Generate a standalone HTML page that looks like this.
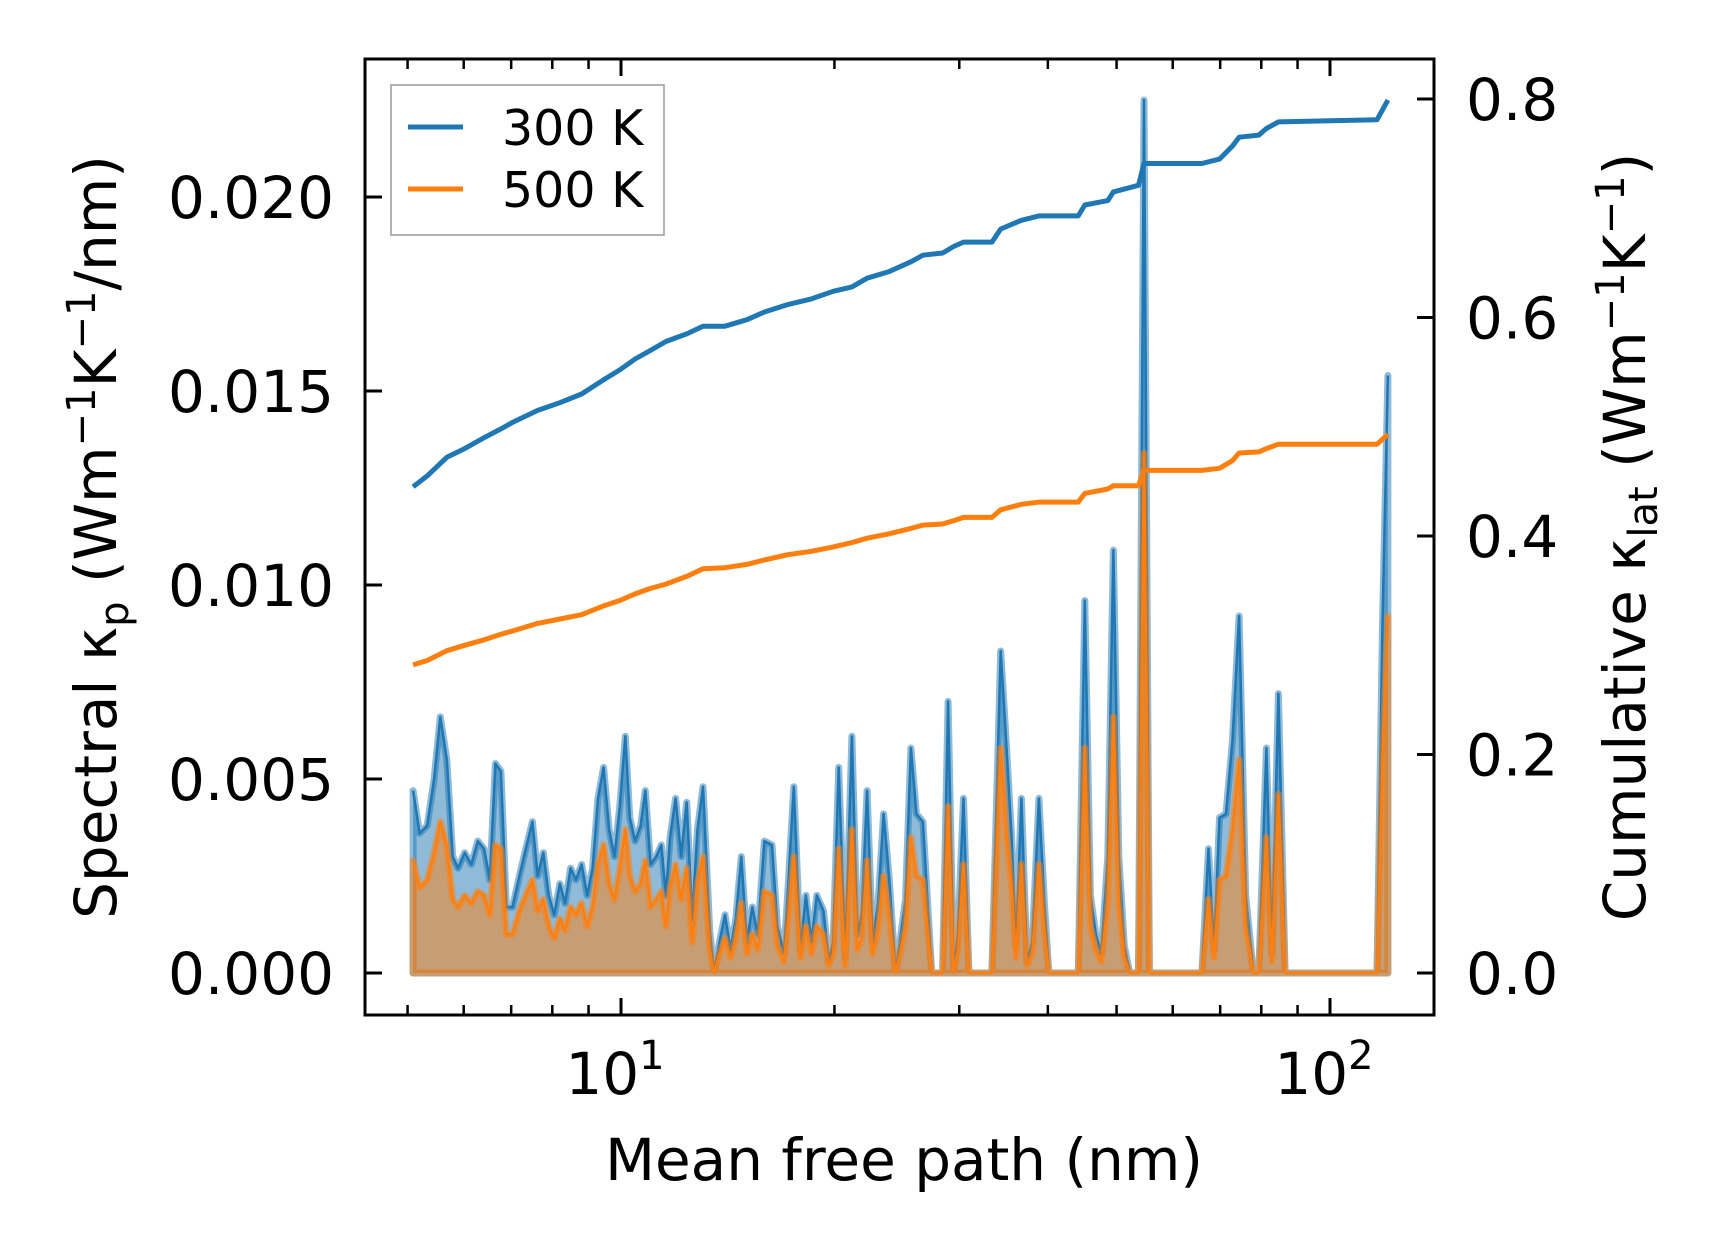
<!DOCTYPE html>
<html><head><meta charset="utf-8"><style>
html,body{margin:0;padding:0;background:#fff;}
svg{display:block;font-family:"DejaVu Sans","Liberation Sans",sans-serif;}
</style></head><body>
<svg id="chart" width="1716" height="1254" viewBox="0 0 1716 1254" xmlns="http://www.w3.org/2000/svg">
<g id="marks"></g>
<g id="axes"></g>
<text x="904" y="1180" font-size="58" text-anchor="middle">Mean free path (nm)</text>
<text transform="translate(116,537) rotate(-90)" font-size="58" text-anchor="middle">Spectral κ<tspan font-size="40" dy="12">p</tspan><tspan dy="-12"> (Wm</tspan><tspan font-size="40" dy="-21">−1</tspan><tspan dy="21">K</tspan><tspan font-size="40" dy="-21">−1</tspan><tspan dy="21">/nm)</tspan></text>
<text transform="translate(1645,537) rotate(-90)" font-size="58" text-anchor="middle">Cumulative κ<tspan font-size="40" dy="12">lat</tspan><tspan dy="-12"> (Wm</tspan><tspan font-size="40" dy="-21">−1</tspan><tspan dy="21">K</tspan><tspan font-size="40" dy="-21">−1</tspan><tspan dy="21">)</tspan></text>
<g>
<rect x="391" y="85" width="273" height="150" fill="#fff" fill-opacity="0.8" stroke="#999" stroke-width="1.5"/>
<line x1="408" y1="127" x2="463" y2="127" stroke="#1f77b4" stroke-width="5"/>
<text x="502" y="145" font-size="49">300 K</text>
<line x1="408" y1="189" x2="463" y2="189" stroke="#ff7f0e" stroke-width="5"/>
<text x="502" y="207" font-size="49">500 K</text>
</g>
</svg>
<script>
const mfp = [5.09,5.20,5.33,5.45,5.56,5.68,5.79,5.89,6.02,6.15,6.28,6.41,6.53,6.65,6.77,6.89,7.03,7.19,7.34,7.50,7.63,7.77,7.91,8.05,8.20,8.34,8.49,8.64,8.80,8.96,9.12,9.28,9.45,9.62,9.79,9.96,10.14,10.29,10.47,10.66,10.82,11.01,11.21,11.40,11.57,11.73,11.94,12.16,12.38,12.60,12.82,13.05,13.34,13.53,13.77,14.02,14.27,14.52,14.78,15.05,15.32,15.59,15.93,16.33,16.62,16.98,17.22,17.53,17.91,18.23,18.56,18.89,19.30,19.64,19.92,20.28,20.72,21.17,21.54,21.85,22.24,22.64,23.05,23.46,23.88,24.39,24.74,25.19,25.64,26.10,26.66,27.43,28.42,28.93,29.45,29.87,30.41,30.95,33.35,34.32,34.93,35.56,36.07,36.71,37.37,38.03,38.85,39.55,40.12,44.16,45.10,45.92,46.74,47.58,48.60,49.48,50.37,51.27,52.18,53.69,54.65,55.62,65.97,67.40,68.61,69.85,71.34,72.87,74.44,76.04,77.97,79.35,81.35,82.81,84.58,86.44,88.29,116.5,118.6,120.7];
const spec300 = [0.0047,0.0036,0.0038,0.0050,0.0066,0.0055,0.0030,0.0027,0.0031,0.0028,0.0034,0.0032,0.0024,0.0054,0.0052,0.0017,0.0017,0.0025,0.0032,0.0039,0.0025,0.0031,0.0020,0.0015,0.0023,0.0018,0.0027,0.0024,0.0028,0.0020,0.0027,0.0045,0.0053,0.0037,0.0030,0.0043,0.0061,0.0040,0.0034,0.0038,0.0047,0.0028,0.0030,0.0033,0.0020,0.0035,0.0045,0.0030,0.0044,0.0014,0.0037,0.0048,0.0011,0.0000,0.0008,0.0015,0.0006,0.0014,0.0030,0.0008,0.0017,0.0010,0.0034,0.0033,0.0012,0.0005,0.0023,0.0048,0.0006,0.0020,0.0008,0.0020,0.0016,0.0003,0.0008,0.0053,0.0004,0.0061,0.0010,0.0015,0.0047,0.0008,0.0018,0.0041,0.0025,0.0000,0.0008,0.0019,0.0058,0.0041,0.0039,0.0000,0.0000,0.0070,0.0000,0.0010,0.0045,0.0000,0.0000,0.0083,0.0060,0.0035,0.0007,0.0045,0.0003,0.0008,0.0045,0.0018,0.0000,0.0000,0.0096,0.0020,0.0010,0.0005,0.0030,0.0109,0.0030,0.0007,0.0000,0.0000,0.0225,0.0000,0.0000,0.0032,0.0006,0.0040,0.0041,0.0060,0.0092,0.0020,0.0000,0.0000,0.0058,0.0005,0.0072,0.0000,0.0000,0.0000,0.0090,0.0154];
const spec500 = [0.0029,0.0022,0.0024,0.0031,0.0039,0.0033,0.0019,0.0017,0.0020,0.0018,0.0021,0.0020,0.0015,0.0033,0.0032,0.0010,0.0010,0.0016,0.0020,0.0024,0.0016,0.0019,0.0012,0.0009,0.0014,0.0011,0.0017,0.0015,0.0018,0.0012,0.0017,0.0028,0.0033,0.0023,0.0019,0.0027,0.0037,0.0025,0.0021,0.0023,0.0029,0.0017,0.0019,0.0021,0.0012,0.0022,0.0028,0.0019,0.0027,0.0008,0.0023,0.0030,0.0006,0.0000,0.0005,0.0009,0.0004,0.0009,0.0018,0.0005,0.0010,0.0006,0.0021,0.0020,0.0007,0.0003,0.0014,0.0030,0.0004,0.0012,0.0005,0.0012,0.0010,0.0002,0.0005,0.0032,0.0002,0.0037,0.0006,0.0009,0.0029,0.0005,0.0011,0.0025,0.0015,0.0000,0.0005,0.0012,0.0035,0.0025,0.0024,0.0000,0.0000,0.0043,0.0000,0.0006,0.0028,0.0000,0.0000,0.0058,0.0037,0.0022,0.0004,0.0028,0.0002,0.0005,0.0028,0.0011,0.0000,0.0000,0.0058,0.0012,0.0006,0.0003,0.0018,0.0066,0.0018,0.0004,0.0000,0.0000,0.0134,0.0000,0.0000,0.0019,0.0004,0.0024,0.0025,0.0037,0.0055,0.0012,0.0000,0.0000,0.0035,0.0003,0.0046,0.0000,0.0000,0.0000,0.0055,0.0092];
const cumMfp = [5.09,5.33,5.68,6.02,6.41,6.77,7.03,7.63,8.20,8.80,9.45,9.96,10.47,11.01,11.57,12.38,13.05,14.02,15.05,15.93,17.22,18.56,19.92,21.17,22.24,23.88,25.64,26.66,28.42,29.45,30.41,33.35,34.32,36.71,38.85,44.16,45.10,48.60,49.48,53.69,54.65,65.97,69.85,72.87,74.44,79.35,81.35,84.58,116.5,120.7];
const cum300 = [0.445,0.455,0.472,0.480,0.490,0.498,0.504,0.515,0.522,0.530,0.543,0.552,0.562,0.570,0.578,0.585,0.592,0.592,0.598,0.605,0.612,0.617,0.624,0.628,0.636,0.642,0.651,0.657,0.659,0.665,0.669,0.669,0.681,0.689,0.693,0.693,0.703,0.707,0.715,0.721,0.741,0.741,0.745,0.757,0.765,0.767,0.773,0.779,0.781,0.799];
const cum500 = [0.282,0.286,0.295,0.300,0.305,0.310,0.313,0.320,0.324,0.328,0.336,0.341,0.347,0.352,0.356,0.363,0.370,0.371,0.374,0.378,0.383,0.386,0.390,0.394,0.398,0.402,0.407,0.410,0.411,0.414,0.417,0.417,0.424,0.429,0.431,0.431,0.439,0.443,0.446,0.446,0.460,0.460,0.462,0.469,0.476,0.477,0.480,0.484,0.484,0.493];
const leftTicks = [0,0.005,0.010,0.015,0.020];
const leftTickLabels = ["0.000","0.005","0.010","0.015","0.020"];
const rightTicks = [0,0.2,0.4,0.6,0.8];
const rightTickLabels = ["0.0","0.2","0.4","0.6","0.8"];
const xMajor = [10,100];
const xMajorExp = ["1","2"];
const xMinor = [5,6,7,8,9,20,30,40,50,60,70,80,90];

const AX = {l:365,r:1434,t:59,b:1015};
const xs = m => 621 + 709*Math.log10(m/10);
const yL = v => 973 - v/0.005*194;
const yR = v => 973 - v*1092.5;
const NS = "http://www.w3.org/2000/svg";
const marks = document.getElementById('marks');
const axes = document.getElementById('axes');
function mk(tag, attrs, parent){const e=document.createElementNS(NS,tag);for(const k in attrs)e.setAttribute(k,attrs[k]);parent.appendChild(e);return e;}

function drawSpectral(vals, color, name){
  let line = vals.map((v,i)=>(i?'L':'M')+xs(mfp[i]).toFixed(1)+','+yL(v).toFixed(1)).join(' ');
  const x0 = xs(mfp[0]).toFixed(1), x1 = xs(mfp[mfp.length-1]).toFixed(1), y0=yL(0).toFixed(1);
  const area = line + ' L'+x1+','+y0+' L'+x0+','+y0+' Z';
  const a = mk('path',{d:area,fill:color,'fill-opacity':0.5,stroke:color,'stroke-opacity':0.5,'stroke-width':7,'stroke-linejoin':'round'},marks);
  
  
  const l = mk('path',{d:line,fill:'none',stroke:color,'stroke-width':2.5,'stroke-linejoin':'round'},marks);
  
  
}
drawSpectral(spec300,'#1f77b4','spectral-300k');
drawSpectral(spec500,'#ff7f0e','spectral-500k');

function drawCum(vals,color,name){
  const d = vals.map((v,i)=>(i?'L':'M')+xs(cumMfp[i]).toFixed(1)+','+yR(v).toFixed(1)).join(' ');
  const p = mk('path',{d:d,fill:'none',stroke:color,'stroke-width':5,'stroke-linejoin':'round'},marks);
  
  
}
drawCum(cum300,'#1f77b4','cumulative-300k');
drawCum(cum500,'#ff7f0e','cumulative-500k');

const frame = mk('rect',{x:AX.l,y:AX.t,width:AX.r-AX.l,height:AX.b-AX.t,fill:'none',stroke:'#000','stroke-width':3},axes);



leftTicks.forEach((v,i)=>{
  const y=yL(v);
  const t = mk('line',{x1:AX.l,x2:AX.l+17,y1:y,y2:y,stroke:'#000','stroke-width':3},axes);
  
  
  const tx = mk('text',{x:AX.l-31,y:y+21,'font-size':58,'text-anchor':'end'},axes);
  tx.textContent = leftTickLabels[i];
  
  
});
rightTicks.forEach((v,i)=>{
  const y=yR(v);
  const t = mk('line',{x1:AX.r-17,x2:AX.r,y1:y,y2:y,stroke:'#000','stroke-width':3},axes);
  
  
  const tx = mk('text',{x:AX.r+32,y:y+21,'font-size':58},axes);
  tx.textContent = rightTickLabels[i];
  
  
});
xMajor.forEach((m,i)=>{
  const x=xs(m);
  [[AX.b,AX.b-17],[AX.t,AX.t+17]].forEach(([a,b])=>{
    const t = mk('line',{x1:x,x2:x,y1:a,y2:b,stroke:'#000','stroke-width':3},axes);
    
    
  });
  const tx = mk('text',{x:x-6,y:AX.b+79,'font-size':58,'text-anchor':'middle'},axes);
  tx.innerHTML = '10<tspan font-size="40" dy="-25">'+xMajorExp[i]+'</tspan>';
  
  
});
xMinor.forEach(m=>{
  const x=xs(m);
  [[AX.b,AX.b-10],[AX.t,AX.t+10]].forEach(([a,b])=>{
    const t = mk('line',{x1:x,x2:x,y1:a,y2:b,stroke:'#000','stroke-width':2.5},axes);
    
    
  });
});
</script>
</body></html>
